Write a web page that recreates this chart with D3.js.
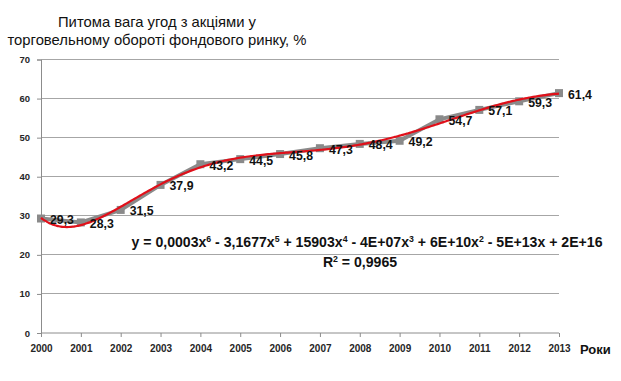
<!DOCTYPE html>
<html><head><meta charset="utf-8">
<script src="https://cdn.jsdelivr.net/npm/d3@7"></script>
<style>body{margin:0;background:#fff}svg{display:block}</style>
</head><body>
<script>
const years = [2000,2001,2002,2003,2004,2005,2006,2007,2008,2009,2010,2011,2012,2013];
const shares = [29.3,28.3,31.5,37.9,43.2,44.5,45.8,47.3,48.4,49.2,54.7,57.1,59.3,61.4];
const yTicks = [0,10,20,30,40,50,60,70];
const titleLines = ["Питома вага угод з акціями у","торговельному обороті фондового ринку, %"];
const xTitle = "Роки";
const eqParts = [["y = 0,0003x",""],["6",1],[" - 3,1677x",""],["5",1],[" + 15903x",""],["4",1],[" - 4E+07x",""],["3",1],[" + 6E+10x",""],["2",1],[" - 5E+13x + 2E+16",""]];
const r2Parts = [["R",""],["2",1],[" = 0,9965",""]];

const W=621,H=381;
const svg=d3.select("body").append("svg").attr("width",W).attr("height",H);
const x=d3.scalePoint().domain(years).range([41,559]);
const y=d3.scaleLinear().domain([0,70]).range([333,59.5]);
const F="'Liberation Sans',Arial,sans-serif";

// gridlines
svg.append("g").selectAll("line").data(yTicks.filter(d=>d>0)).join("line")
  .attr("x1",41).attr("x2",559).attr("y1",d=>y(d)).attr("y2",d=>y(d))
  .attr("stroke","#a6a6a6").attr("stroke-width",1).attr("shape-rendering","crispEdges");

// y axis
const ya=svg.append("g").attr("transform","translate(41,0)").call(d3.axisLeft(y).tickValues(yTicks).tickSize(4).tickPadding(7));
ya.select(".domain").attr("stroke","#8c8c8c");
ya.selectAll(".tick line").attr("stroke","#8c8c8c");
ya.selectAll("text").attr("font-family",F).attr("font-weight","bold").attr("font-size","9.5px").attr("fill","#262626");

// x axis
const xa=svg.append("g").attr("transform","translate(0,333)").call(d3.axisBottom(x).tickSize(4).tickPadding(8).tickFormat(d3.format("d")));
xa.select(".domain").attr("stroke","#8c8c8c").attr("d","M41,0H559");
xa.selectAll(".tick line").attr("stroke","#8c8c8c");
xa.selectAll("text").attr("font-family",F).attr("font-weight","bold").attr("font-size","10px").attr("fill","#262626");

// data line
const line=d3.line().x((d,i)=>x(years[i])).y(d=>y(d));
svg.append("path").datum(shares).attr("d",line).attr("fill","none").attr("stroke","#8a8a8a").attr("stroke-width",4);
svg.append("g").selectAll("rect").data(shares).join("rect")
  .attr("x",(d,i)=>x(years[i])-4).attr("y",d=>y(d)-4).attr("width",8).attr("height",8)
  .attr("fill","#8a8a8a");

// polynomial trend (degree 6, least squares from data)
const t0=2006.5,ts=6.5,deg=6;
const tv=years.map(v=>(v-t0)/ts);
const n=deg+1;
const A=Array.from({length:n},()=>new Array(n+1).fill(0));
tv.forEach((t,k)=>{for(let i=0;i<n;i++){for(let j=0;j<n;j++)A[i][j]+=Math.pow(t,i+j);A[i][n]+=Math.pow(t,i)*shares[k];}});
for(let i=0;i<n;i++){let p=i;for(let r=i+1;r<n;r++)if(Math.abs(A[r][i])>Math.abs(A[p][i]))p=r;[A[i],A[p]]=[A[p],A[i]];
  for(let r=0;r<n;r++){if(r===i)continue;const f=A[r][i]/A[i][i];for(let c=i;c<=n;c++)A[r][c]-=f*A[i][c];}}
const coef=A.map((row,i)=>row[n]/row[i]);
const poly=v=>{const t=(v-t0)/ts;return coef.reduce((s,c,i)=>s+c*Math.pow(t,i),0);};
const xl=d3.scaleLinear().domain([2000,2013]).range([41,559]);
const trend=d3.range(2000,2013.001,0.05).map(v=>[v,poly(v)]);
svg.append("path").datum(trend).attr("d",d3.line().x(d=>xl(d[0])).y(d=>y(d[1])).curve(d3.curveMonotoneX))
  .attr("fill","none").attr("stroke","#e0101a").attr("stroke-width",2.2);

// data labels
svg.append("g").selectAll("text").data(shares).join("text")
  .attr("x",(d,i)=>x(years[i])+9).attr("y",d=>y(d)+5.5)
  .attr("font-family",F).attr("font-weight","bold").attr("font-size","12.3px").attr("fill","#111")
  .text(d=>String(d).replace(".",","));

// title
svg.append("text").attr("x",157).attr("text-anchor","middle").attr("font-family",F).attr("font-size","14.8px").attr("fill","#111")
  .selectAll("tspan").data(titleLines).join("tspan").attr("x",157).attr("y",(d,i)=>27+i*18).text(d=>d);

// x title
svg.append("text").attr("x",580).attr("y",354).attr("font-family",F).attr("font-weight","bold").attr("font-size","13px").attr("fill","#111").text(xTitle);

// equation
function rich(parts,cx,cy,fs){
  const t=svg.append("text").attr("x",cx).attr("y",cy).attr("text-anchor","middle").attr("font-family",F).attr("font-weight","bold").attr("font-size",fs+"px").attr("fill","#111");
  let sup=false;
  parts.forEach(p=>{const s=t.append("tspan").text(p[0]);
    if(p[1]){s.attr("font-size",(fs*0.62)+"px").attr("dy",-fs*0.38);sup=true;}
    else if(sup){s.attr("dy",fs*0.38);sup=false;}});
  return t;
}
rich(eqParts,367,247,14.1);
rich(r2Parts,360,267,14.1);
</script>
</body></html>
